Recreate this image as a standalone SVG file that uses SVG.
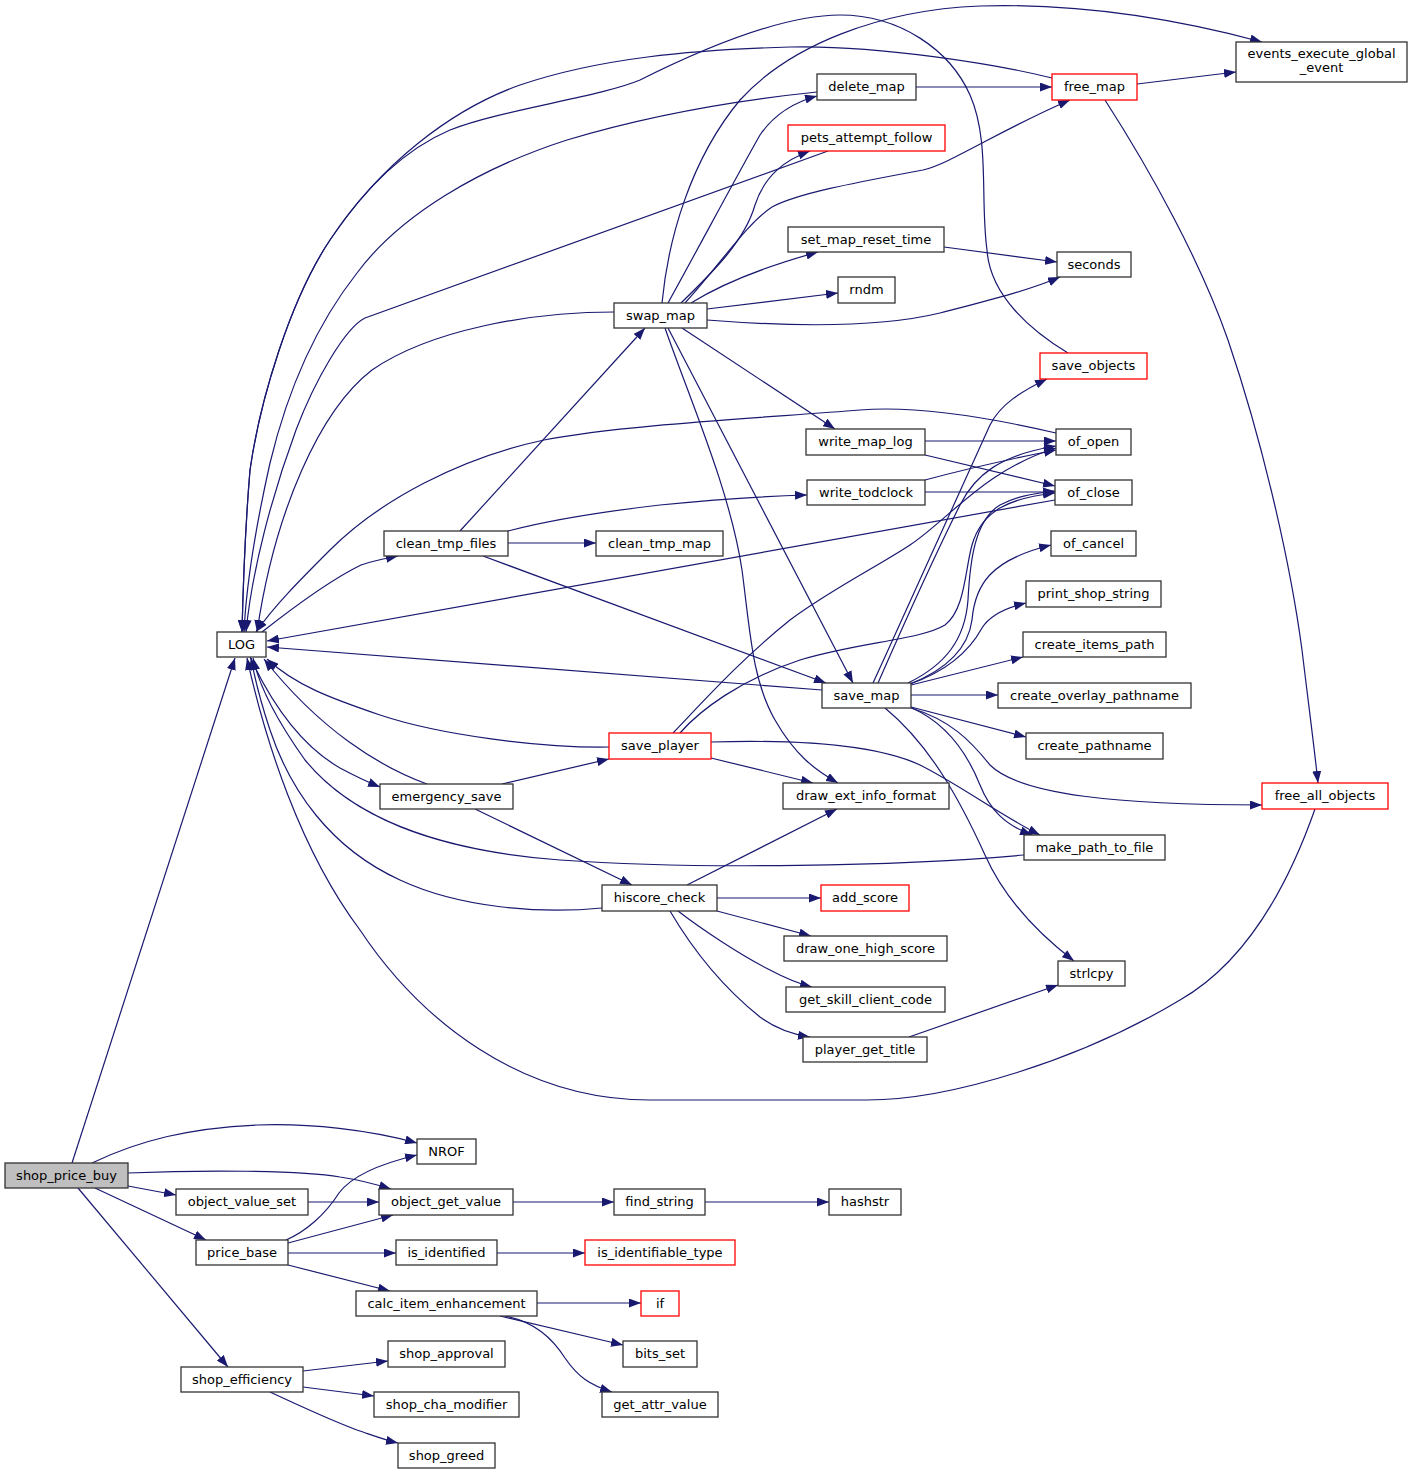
<svg xmlns="http://www.w3.org/2000/svg" width="1412" height="1474" viewBox="0 0 1412 1474">
<defs>
<marker id="a" viewBox="0 0 12 9" refX="12" refY="4.5" markerWidth="12" markerHeight="9" markerUnits="userSpaceOnUse" orient="auto">
<path d="M0,0 L12,4.5 L0,9 z" fill="#191970"/>
</marker>
<style>
.n rect{fill:#fff;stroke:#333;stroke-width:1.3}
.r rect{stroke:#f00}
.g rect{fill:#bfbfbf}
text{font-family:'DejaVu Sans',sans-serif;font-size:13px;text-anchor:middle;fill:#000}
.e path{fill:none;stroke:#191970;stroke-width:1.2;marker-end:url(#a)}
</style>
</defs>
<rect width="1412" height="1474" fill="#fff"/>
<g class="e" id="edges">
<path d="M72,1163 L235,658"/>
<path d="M92,1163 C140,1140 190,1128 257,1125 C310,1123 370,1130 417,1143"/>
<path d="M128,1173 C200,1170 300,1170 340,1177 C360,1180 375,1184 391,1189"/>
<path d="M128,1186 L176,1195"/>
<path d="M95,1188 L206,1240"/>
<path d="M78,1188 L228,1367"/>
<path d="M308,1202 L379,1202"/>
<path d="M286,1240 C305,1232 325,1215 339,1193 C350,1178 375,1165 417,1155"/>
<path d="M288,1243 L393,1215"/>
<path d="M288,1253 L396,1253"/>
<path d="M288,1265 L390,1291"/>
<path d="M513,1202 L614,1202"/>
<path d="M705,1202 L829,1202"/>
<path d="M497,1253 L585,1253"/>
<path d="M537,1303 L641,1303"/>
<path d="M500,1316 L623,1345"/>
<path d="M505,1316 C535,1322 552,1338 565,1358 C578,1377 590,1385 612,1392"/>
<path d="M303,1371 L388,1361"/>
<path d="M303,1387 L374,1396"/>
<path d="M270,1392 C300,1406 330,1420 357,1430 C372,1435 385,1440 398,1443"/>
<path d="M602,908 C540,914 460,908 400,880 C330,848 290,790 270,730 C260,700 255,680 251,658"/>
<path d="M687,885 L837,809"/>
<path d="M717,898 L821,898"/>
<path d="M717,911 L811,936"/>
<path d="M678,911 C700,928 740,955 770,970 C785,978 800,984 812,987"/>
<path d="M670,911 C690,945 720,985 760,1017 C775,1028 790,1034 810,1037"/>
<path d="M909,1037 L1058,985"/>
<path d="M502,784 L609,759"/>
<path d="M475,809 L632,885"/>
<path d="M427,784 C380,767 320,730 264,659"/>
<path d="M250,657 C270,700 300,745 340,768 C355,776 365,781 380,787"/>
<path d="M609,747 C540,748 440,735 380,715 C330,698 295,685 267,659"/>
<path d="M673,733 C700,705 740,660 790,620 C830,590 880,565 910,545 C950,518 985,470 1056,448"/>
<path d="M680,733 C700,710 740,680 800,660 C860,642 920,640 945,625 C965,610 965,570 972,545 C982,510 1010,498 1055,493"/>
<path d="M711,742 C780,740 870,742 920,765 C960,785 1000,815 1040,835"/>
<path d="M711,758 L813,783"/>
<path d="M822,690 L267,647"/>
<path d="M873,683 C920,580 970,470 990,425 C1000,405 1020,392 1047,379"/>
<path d="M878,683 C910,610 940,545 960,505 C975,475 1000,455 1056,446"/>
<path d="M908,683 C945,665 965,640 968,600 C970,560 975,520 1000,505 C1015,497 1030,494 1055,491"/>
<path d="M910,684 C945,670 968,650 972,620 C975,585 990,560 1051,545"/>
<path d="M910,684 C950,670 970,650 982,628 C990,615 1005,608 1026,603"/>
<path d="M911,685 L1023,657"/>
<path d="M911,695 L998,695"/>
<path d="M911,707 L1026,737"/>
<path d="M911,708 C950,720 970,740 990,765 C1020,795 1120,805 1262,805"/>
<path d="M912,708 C950,725 970,760 980,785 C990,810 1005,825 1032,835"/>
<path d="M885,708 C930,745 960,800 985,855 C1005,900 1040,935 1074,961"/>
<path d="M1024,855 C900,866 700,870 560,860 C430,850 350,815 305,760 C280,725 260,690 253,658"/>
<path d="M1315,809 C1290,880 1250,960 1180,1000 C1080,1060 950,1100 867,1100 L650,1100 C520,1100 420,1020 360,930 C300,850 265,740 247,658"/>
<path d="M1105,100 C1150,170 1200,260 1228,340 C1262,440 1290,560 1302,650 C1308,700 1314,745 1318,783"/>
<path d="M1137,84 L1236,72"/>
<path d="M1052,78 C1000,65 880,45 790,47 C690,50 600,58 520,85 C450,110 380,165 330,240 C290,300 260,400 250,470 C245,530 243,590 242,632"/>
<path d="M1068,353 C1030,330 990,295 987,250 C980,200 990,140 970,95 C950,50 900,15 840,15 C780,15 700,50 640,80 C600,97 500,110 450,130 C410,147 370,180 330,240 C290,300 260,400 250,470 C245,530 243,590 242,632"/>
<path d="M817,92 C740,100 650,115 567,140 C480,168 400,215 357,273 C320,320 290,380 270,463 C255,530 246,590 244,632"/>
<path d="M828,151 L365,318 C345,328 315,380 296,430 C272,495 252,570 246,632"/>
<path d="M614,312 C530,312 430,330 372,370 C320,410 275,510 257,632"/>
<path d="M1056,433 C1000,420 920,405 860,410 C760,418 620,425 544,440 C460,458 380,500 330,550 C300,580 275,605 256,632"/>
<path d="M262,632 C290,610 330,580 361,565 C375,560 388,558 398,556"/>
<path d="M460,531 L645,328"/>
<path d="M508,531 C550,520 600,512 660,505 C720,499 770,496 807,495"/>
<path d="M508,543 L596,543"/>
<path d="M483,556 L826,683"/>
<path d="M668,303 C700,245 740,170 760,135 C775,113 795,102 817,96"/>
<path d="M681,303 C715,270 745,240 755,205 C765,175 785,160 810,151"/>
<path d="M685,303 C720,265 745,225 772,207 C800,192 870,180 923,170 C950,164 1000,130 1070,100"/>
<path d="M691,303 C720,285 760,268 818,252"/>
<path d="M707,309 L838,293"/>
<path d="M707,320 C770,325 870,330 940,313 C990,300 1030,290 1060,277"/>
<path d="M662,303 C668,240 690,160 740,100 C790,45 880,10 980,6 C1080,3 1180,20 1262,42"/>
<path d="M682,328 L835,429"/>
<path d="M668,328 L853,683"/>
<path d="M665,328 C690,400 730,490 742,570 C750,630 752,680 775,720 C795,755 815,770 838,783"/>
<path d="M944,247 L1057,262"/>
<path d="M925,441 L1056,441"/>
<path d="M925,455 L1055,486"/>
<path d="M925,480 C970,468 1020,457 1056,450"/>
<path d="M925,492 L1055,492"/>
<path d="M1055,500 L267,641"/>
<path d="M916,87 L1052,87"/>
</g>
<g id="shop_price_buy" class="n g"><rect x="5" y="1163" width="123" height="25"/><text x="66.5" y="1180">shop_price_buy</text></g>
<g id="LOG" class="n"><rect x="217" y="632" width="49" height="25"/><text x="241.5" y="649">LOG</text></g>
<g id="NROF" class="n"><rect x="417" y="1139" width="59" height="25"/><text x="446.5" y="1156">NROF</text></g>
<g id="object_value_set" class="n"><rect x="176" y="1189" width="132" height="26"/><text x="242" y="1206">object_value_set</text></g>
<g id="object_get_value" class="n"><rect x="379" y="1189" width="134" height="26"/><text x="446" y="1206">object_get_value</text></g>
<g id="price_base" class="n"><rect x="196" y="1240" width="92" height="25"/><text x="242" y="1257">price_base</text></g>
<g id="is_identified" class="n"><rect x="396" y="1240" width="101" height="25"/><text x="446.5" y="1257">is_identified</text></g>
<g id="calc_item_enhancement" class="n"><rect x="356" y="1291" width="181" height="25"/><text x="446.5" y="1308">calc_item_enhancement</text></g>
<g id="shop_efficiency" class="n"><rect x="181" y="1367" width="122" height="25"/><text x="242" y="1384">shop_efficiency</text></g>
<g id="shop_approval" class="n"><rect x="388" y="1341" width="117" height="26"/><text x="446.5" y="1358">shop_approval</text></g>
<g id="shop_cha_modifier" class="n"><rect x="374" y="1392" width="145" height="25"/><text x="446.5" y="1409">shop_cha_modifier</text></g>
<g id="shop_greed" class="n"><rect x="398" y="1443" width="97" height="25"/><text x="446.5" y="1460">shop_greed</text></g>
<g id="find_string" class="n"><rect x="614" y="1189" width="91" height="26"/><text x="659.5" y="1206">find_string</text></g>
<g id="hashstr" class="n"><rect x="829" y="1189" width="72" height="26"/><text x="865" y="1206">hashstr</text></g>
<g id="is_identifiable_type" class="n r"><rect x="585" y="1240" width="150" height="25"/><text x="660" y="1257">is_identifiable_type</text></g>
<g id="if" class="n r"><rect x="641" y="1291" width="38" height="25"/><text x="660" y="1308">if</text></g>
<g id="bits_set" class="n"><rect x="623" y="1341" width="74" height="26"/><text x="660" y="1358">bits_set</text></g>
<g id="get_attr_value" class="n"><rect x="602" y="1392" width="116" height="25"/><text x="660" y="1409">get_attr_value</text></g>
<g id="hiscore_check" class="n"><rect x="602" y="885" width="115" height="26"/><text x="659.5" y="902">hiscore_check</text></g>
<g id="add_score" class="n r"><rect x="821" y="885" width="88" height="26"/><text x="865" y="902">add_score</text></g>
<g id="draw_one_high_score" class="n"><rect x="784" y="936" width="163" height="25"/><text x="865.5" y="953">draw_one_high_score</text></g>
<g id="get_skill_client_code" class="n"><rect x="786" y="987" width="159" height="25"/><text x="865.5" y="1004">get_skill_client_code</text></g>
<g id="player_get_title" class="n"><rect x="803" y="1037" width="124" height="25"/><text x="865" y="1054">player_get_title</text></g>
<g id="strlcpy" class="n"><rect x="1058" y="961" width="67" height="25"/><text x="1091.5" y="978">strlcpy</text></g>
<g id="save_map" class="n"><rect x="822" y="683" width="89" height="25"/><text x="866.5" y="700">save_map</text></g>
<g id="create_items_path" class="n"><rect x="1023" y="632" width="143" height="25"/><text x="1094.5" y="649">create_items_path</text></g>
<g id="create_overlay_pathname" class="n"><rect x="998" y="683" width="193" height="25"/><text x="1094.5" y="700">create_overlay_pathname</text></g>
<g id="create_pathname" class="n"><rect x="1026" y="733" width="137" height="26"/><text x="1094.5" y="750">create_pathname</text></g>
<g id="save_player" class="n r"><rect x="609" y="733" width="102" height="26"/><text x="660" y="750">save_player</text></g>
<g id="draw_ext_info_format" class="n"><rect x="783" y="783" width="166" height="26"/><text x="866" y="800">draw_ext_info_format</text></g>
<g id="free_all_objects" class="n r"><rect x="1262" y="783" width="126" height="26"/><text x="1325" y="800">free_all_objects</text></g>
<g id="make_path_to_file" class="n"><rect x="1024" y="835" width="141" height="25"/><text x="1094.5" y="852">make_path_to_file</text></g>
<g id="save_objects" class="n r"><rect x="1040" y="353" width="107" height="26"/><text x="1093.5" y="370">save_objects</text></g>
<g id="write_map_log" class="n"><rect x="806" y="429" width="119" height="26"/><text x="865.5" y="446">write_map_log</text></g>
<g id="of_open" class="n"><rect x="1056" y="429" width="75" height="26"/><text x="1093.5" y="446">of_open</text></g>
<g id="write_todclock" class="n"><rect x="807" y="480" width="118" height="25"/><text x="866" y="497">write_todclock</text></g>
<g id="of_close" class="n"><rect x="1055" y="480" width="77" height="25"/><text x="1093.5" y="497">of_close</text></g>
<g id="of_cancel" class="n"><rect x="1051" y="531" width="85" height="25"/><text x="1093.5" y="548">of_cancel</text></g>
<g id="print_shop_string" class="n"><rect x="1026" y="581" width="135" height="26"/><text x="1093.5" y="598">print_shop_string</text></g>
<g id="clean_tmp_files" class="n"><rect x="384" y="531" width="124" height="25"/><text x="446" y="548">clean_tmp_files</text></g>
<g id="clean_tmp_map" class="n"><rect x="596" y="531" width="127" height="25"/><text x="659.5" y="548">clean_tmp_map</text></g>
<g id="emergency_save" class="n"><rect x="380" y="784" width="133" height="25"/><text x="446.5" y="801">emergency_save</text></g>
<g id="delete_map" class="n"><rect x="817" y="74" width="99" height="26"/><text x="866.5" y="91">delete_map</text></g>
<g id="free_map" class="n r"><rect x="1052" y="74" width="85" height="26"/><text x="1094.5" y="91">free_map</text></g>
<g id="events_execute_global_event" class="n"><rect x="1236" y="42" width="171" height="40"/><text x="1321.5" y="58">events_execute_global</text><text x="1321.5" y="72">_event</text></g>
<g id="pets_attempt_follow" class="n r"><rect x="788" y="125" width="157" height="26"/><text x="866.5" y="142">pets_attempt_follow</text></g>
<g id="set_map_reset_time" class="n"><rect x="788" y="227" width="156" height="25"/><text x="866" y="244">set_map_reset_time</text></g>
<g id="seconds" class="n"><rect x="1057" y="252" width="74" height="25"/><text x="1094" y="269">seconds</text></g>
<g id="rndm" class="n"><rect x="838" y="277" width="57" height="26"/><text x="866.5" y="294">rndm</text></g>
<g id="swap_map" class="n"><rect x="614" y="303" width="93" height="25"/><text x="660.5" y="320">swap_map</text></g>
</svg>
